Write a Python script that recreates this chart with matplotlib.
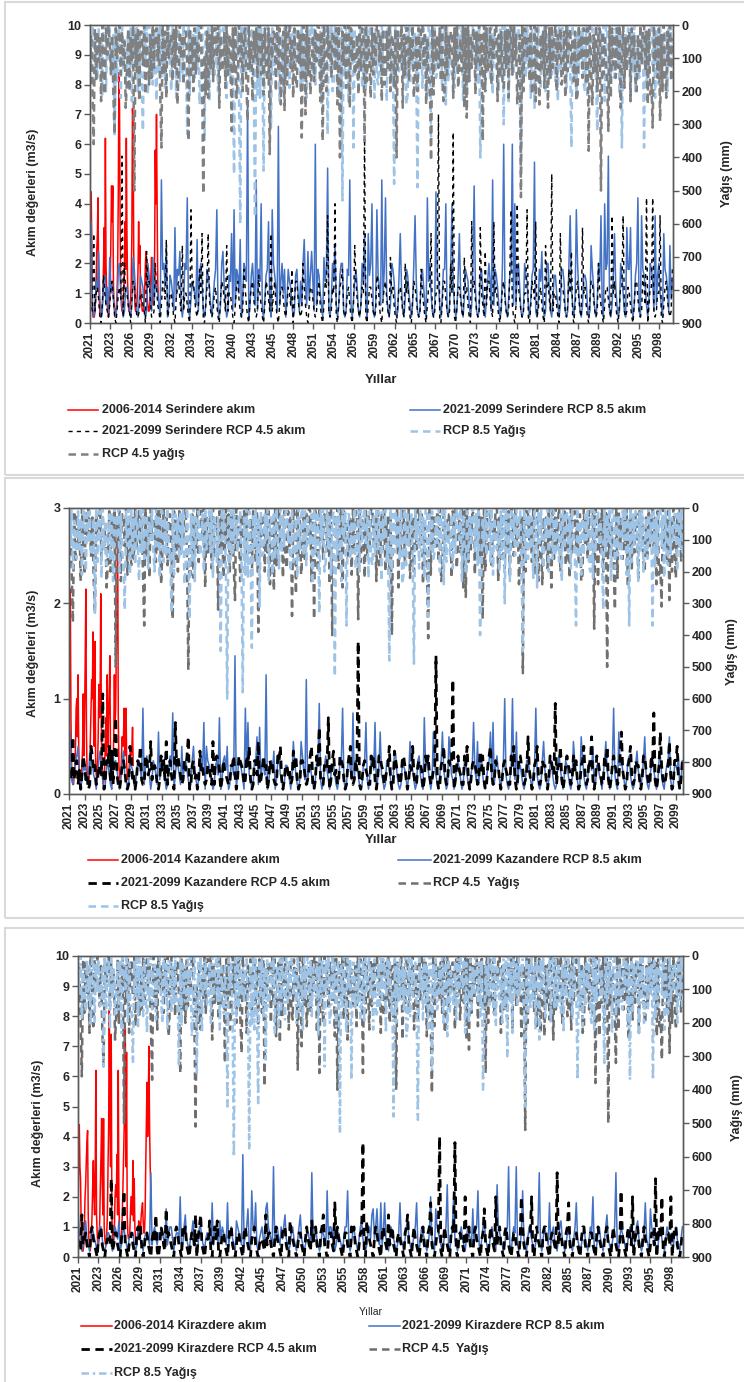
import numpy as np
import matplotlib
matplotlib.use("Agg")
import matplotlib.pyplot as plt
from matplotlib.lines import Line2D
from matplotlib.patches import Rectangle

plt.rcParams['font.family'] = ['Liberation Sans', 'DejaVu Sans']
plt.rcParams['font.weight'] = 'bold'

# values are stored one character per point: index in ALPH times the series step
ALPH = "0123456789ABCDEFGHIJKLMNOPQRSTUVWXYZabcdefghijklmnopqrstuvwxyz"

# observed monthly flow 2006-2014, drawn from the start of the month axis
serindere_obs = "AGMB2111247C FL84211235AG 7VA5321247FN HN7321235AMg aF632246AH9V F7422347FaYC 6322359HAD64 322246AC7432 2358B7436CTK ZK74"
kazandere_obs = "CUhG632246AI KCPA42236AL8 GShC42236CIO KYEAW8436CNG KgC64236AG8P AGKT84236CPE IUeuG64348CA CI8AI643468A 8AE6"
kirazdere_obs = "7FMFD521125A CGJL7321247C GA7FV742236C HNC7N532247F MfPFb74235AC AH7VA43236AF KPcFY743347A A7G6D5322346 5457896447FM TKPZMFB"

# simulated flow 2021-2099, six values a year (one group per year)
serindere_rcp85 = ("5H3127 6C4127 8361B5 742139 A53126 64213B 952148 76312A 842B37 6531O9 "
                   "A6D138 752G49 8C313A 9L2147 653E28 A72139 863147 9J213A C63128 7F2J39 "
                   "85E14A 97b138 A63O29 7K2148 9H31JA 862X37 A59149 763128 95273A E63C48 "
                   "C72U39 8531B7 9Q214A 7D3138 AA2129 8O3147 96213A 7F31F8 AK213J 863O49 "
                   "L5213A 973128 F62149 85313A I72128 9631L7 A5213M 873149 9K213A K63128 "
                   "F52149 87313A N62128 953147 A72O39 86312A U52148 9U3K39 A6212A 873148 "
                   "9R2139 7C312A A62148 853139 97212A I6314J A52138 87312D 96214A 7I31K9 "
                   "AS2138 F6312A 8521G9 9G3138 AL21I9 86314A 972I38 A531F9 862D47")
serindere_rcp45 = ("432F25 641038 532136 741025 64S1A5 532047 641125 5320C6 74112A 632037 "
                   "64E125 531046 742D25 5310J6 742139 5F1036 F42125 631047 642D25 531036 "
                   "742129 631046 742128 531037 642F25 731036 642136 539047 74212A 631036 "
                   "642125 731037 6I2126 5K1036 792125 63103D 742136 5V1036 642128 731046 "
                   "7421B5 631036 6421A5 731047 642129 531036 6F2125 5Z1037 74212A 5W1036 "
                   "6421B5 6310H6 74212G 531C37 7421H5 631036 742129 J3103K 642125 5J1037 "
                   "64H125 6310D6 742P25 5310F6 642139 5C1036 7421G5 631047 74212A 531036 "
                   "6421I5 731036 6I2126 531037 742128 63L036 6L2125 5I1036 742129")
kazandere_rcp85 = ("6D3247 8A3136 562396 743147 953126 642186 753137 943126 652147 753I26 "
                   "864137 642D36 753126 85H147 642A36 753127 A43136 85F1A7 643126 74G137 "
                   "85A126 64T147 7531I6 F43127 7C2E36 64P126 759137 843126 65314B 74213B "
                   "853O26 642137 7J3126 853146 642137 7I3126 853H37 642126 7F3147 85F136 "
                   "D43127 753139 842126 65314B 753127 8421G6 75313D 642147 D5312C 843136 "
                   "753127 642146 F53B27 842136 7D3F26 853147 K42136 K53D26 642137 753146 "
                   "I42127 B53136 742126 853147 64213B 75312C 842137 75A126 643147 B53126 "
                   "I421D6 753137 842126 953147 C42136 753127 842146 7C3126 658137")
kazandere_rcp45 = ("543C36 725148 63412A 856236 54L137 6A3928 G42136 75212A 834137 6A3228 "
                   "745B35 652138 573B26 7421F6 864237 58C126 734139 563236 642B27 875137 "
                   "543226 684138 765238 6A3127 74B235 856137 563228 7A3136 645239 583127 "
                   "764235 8A2138 6E3226 56G137 945238 763126 8A3237 5W2136 754228 683138 "
                   "865235 6A3129 754237 863136 5A4226 765138 684235 5T3126 7A4237 66O136 "
                   "854228 6A3136 765239 583126 8A4237 663136 754228 6A3138 865235 C53126 "
                   "7A4237 663138 754J26 6A3136 865238 573126 7A4237 6C3138 754228 6A3136 "
                   "865238 D53126 7A4237 663138 854228 6H3136 D63235 6B4127 7A3137")
kirazdere_rcp85 = ("843124 632135 432135 531124 432135 436124 532134 442125 532134 432E24 "
                   "532435 432824 553134 43A125 732134 632125 532134 432924 532635 432924 "
                   "532165 432H24 5821B5 492134 532895 432F24 532535 732124 532135 732124 "
                   "432E35 532124 432B35 535124 432135 5B2124 532135 632124 537835 832924 "
                   "932135 432124 932135 632124 592135 432124 A32185 432124 5C2135 A32124 "
                   "532135 432824 5B2135 632124 5321C5 432124 5F2135 4F2124 B32135 432124 "
                   "5E2135 432924 532135 632124 532135 932124 532135 4A2124 532135 732124 "
                   "5E2135 432124 532135 632124 932185 432124 532135 432424 532135")
kirazdere_rcp45 = ("321723 421045 321034 521023 32D124 421035 B21023 421045 351024 421034 "
                   "371025 421834 321045 421054 521024 427035 721023 361045 361024 421035 "
                   "521024 421045 321034 521023 321724 421035 321045 521064 321024 421035 "
                   "321624 521045 721034 421935 321024 421054 521024 4J1064 321035 421045 "
                   "321724 521034 321045 721035 321024 521045 921024 4K1035 321045 4J1034 "
                   "321A24 521045 321034 821035 321A24 521045 321024 42103A 521034 4A1035 "
                   "321045 521034 321E24 421045 921034 421035 521024 421045 321034 521035 "
                   "32102B 421045 32A034 521035 321024 42D045 3A1034 42A035 521024")

# precipitation 2021-2099 (mm, step 10), six values a year, same in all three charts
yagis_rcp45 = ("D3Ka1H 2B4N0C L1905F 3MX1A4 0F2C5P H1K4B0 o3E1N2 2C0L4A I3G0D2 1B3Kb0 "
               "F2M0A4 3H1D0O E0A3I2 2CZ1G4 K1F5B0 0Gp9L2 M3D0H1 1A0P3E C2J0F4 3W1E0M "
               "G0B2K3 1IT0D5 N2A1G0 0F3L1C H1d4A2 3K0E1O B2Q0I3 0D4M1G J1C3Y0 2R0F4L "
               "E3H1B0 1N2Z0D K0A4G2 3E1O0e H2C0J3 0P1B4F D3L0E1 2Z0H3A M1F2C0 0B3N1I "
               "G2D0K4 3J1e2C A0P3F1 1H4B0M E3K1D0 0C2O4G If0L2B 3D1H0N K0F3A2 2M1C0J "
               "B4E0P1 S0H3D2 1L2B0F 3Z0K1E C1I4A0 0N3G2H J2D1M0 1F0B3O E3q0K1 2A4H0L "
               "G0N1CO 3E2J0B P1G0D4 0K3A1I F2M0E3 1C4H2N L0B3G1 2I1c0D O3E0K2 1o2F4A "
               "HW0M1C 3G1D0P B0J4E2 2N1A3H K3F0C1 0E2O1L IV0B3G 1T3K0E M2C0H4")
yagis_rcp85 = ("2C0J4A G1D3L0 0K2B1F E3X0H2 1M0D4I B2G1N0 3A0K2E HW1C0L 0F3I1B N1E0G3 "
               "2J4A0D K0C2M1 1H3F0E DX0L2B 3G1E0O I0CZ2H 0N3A1F C2K0D4 1E0M3B H3Fj0A "
               "2Ky0I1 F0B4E2 1Gw3L0 M1Di2C 0I3V1F E2A0N3 3L1G0B J0E2C1 1B4K0H G3M0D2 "
               "0F1I3A C2O0E1 3X1B0K H0D2L4 1r3F0C N0A1b2 2G4E0J E1K0B3 0C3M1G I2F0D1 "
               "3N1A0H Bm0K2E 1D3G0O L0I1C3 2Fn0A4 J1E3M0 0Y2D1G E3B0K2 1O0H4C F2J1E0 "
               "3A0N2D K1G3B0 0E2I1e M3C0F2 1H0L3A D4K1G0 U0E2N1 B2F0C3 1Ij0H2 G0D3M1 "
               "2P1B0E J3A0K2 0G1F3C H2N0D1 1E3J0B Cb0G4L 3F2A1I K0M1E3 1C4HW0 E2B0N1 "
               "0J3F2D G1A0L3 b0H2C1 2N1E0K D3G0B2 b1J3F0 0C2M1H I0E3A2 2K1D0G")

first_year = 2021


def decode(code, step):
    return np.array([ALPH.index(c) for c in code if c != " "]) * step


def fx(px):
    return px / 744


def fy(py):
    return 1 - py / 1382


RED = "#FF0000"
BLUE = "#4472C4"
LBLUE = "#9DC3E6"

panels = [
    dict(name="Serindere", obs=serindere_obs, r85=serindere_rcp85, r45=serindere_rcp45,
         step=0.2, ymax=10, box=(2, 475), ax=(90, 673, 25, 323), xstep=33,
         ylab=(33, 192), y2lab=(727, 174), yil=(381, 380, 10, "bold"),
         rows=(410, 431, 454), c1=(68, 98, 102), c2=(410, 440, 443),
         black=dict(color="black", lw=1.0, dashes=(3, 3)),
         gray=dict(color="#808080", lw=1.8, dashes=(3, 2)),
         lblue=dict(color=LBLUE, lw=1.8, dashes=(3, 2)),
         top="gray", l45="RCP 4.5 yağış",
         order=["red", "blue", "black", "lblue", "gray"]),
    dict(name="Kazandere", obs=kazandere_obs, r85=kazandere_rcp85, r45=kazandere_rcp45,
         step=0.05, ymax=3, box=(478, 918), ax=(69, 683, 508, 794), xstep=24,
         ylab=(33, 653), y2lab=(732, 652), yil=(381, 840, 10, "bold"),
         rows=(860, 883, 906), c1=(88, 118, 121), c2=(398, 431, 433),
         black=dict(color="black", lw=2.0, dashes=(3, 2)),
         gray=dict(color="#707070", lw=1.8, dashes=(3, 2)),
         lblue=dict(color=LBLUE, lw=1.8, dashes=(3, 2)),
         top="lblue", l45="RCP 4.5  Yağış",
         order=["red", "blue", "black", "gray", "lblue"]),
    dict(name="Kirazdere", obs=kirazdere_obs, r85=kirazdere_rcp85, r45=kirazdere_rcp45,
         step=0.2, ymax=10, box=(928, 1390), ax=(78, 683, 956, 1257), xstep=32,
         ylab=(38, 1123), y2lab=(737, 1108), yil=(371, 1312, 8, "normal"),
         rows=(1326, 1349, 1373), c1=(81, 112, 114), c2=(369, 400, 402),
         black=dict(color="black", lw=2.0, dashes=(3, 2)),
         gray=dict(color="#6E6E6E", lw=1.8, dashes=(3, 2)),
         lblue=dict(color=LBLUE, lw=1.8, dashes=(3, 1.5, 1, 1.5)),
         top="lblue", l45="RCP 4.5  Yağış",
         order=["red", "blue", "black", "gray", "lblue"]),
]

fig = plt.figure(figsize=(7.44, 13.82), dpi=100)

p45 = decode(yagis_rcp45, 10)
p85 = decode(yagis_rcp85, 10)
x_precip = np.arange(len(p45)) * 2

for p in panels:
    b0, b1 = p["box"]
    fig.add_artist(Rectangle((fx(5), fy(b1)), fx(760), (b1 - b0) / 1382,
                             transform=fig.transFigure, fill=False,
                             ec="#D9D9D9", lw=1.5))

    L, R, T, B = p["ax"]
    ax = fig.add_axes([fx(L), fy(B), fx(R) - fx(L), (B - T) / 1382])
    obs = decode(p["obs"], p["step"])
    r85 = decode(p["r85"], p["step"])
    r45 = decode(p["r45"], p["step"])
    x_sim = np.arange(len(r85)) * 2

    styles = {
        "red": dict(color=RED, lw=1.1),
        "blue": dict(color=BLUE, lw=1.1),
        "black": p["black"],
        "gray": p["gray"],
        "lblue": p["lblue"],
    }

    ax.plot(np.arange(len(obs)), obs, **styles["red"])
    ax.plot(x_sim, r85, **styles["blue"])
    ax.plot(x_sim, r45, **styles["black"])
    ax.set_xlim(0, 947)
    ax.set_ylim(0, p["ymax"])
    ax.set_yticks(np.arange(0, p["ymax"] + 1, 1))

    ax2 = ax.twinx()
    precip = {"gray": p45, "lblue": p85}
    for key in (["lblue", "gray"] if p["top"] == "gray" else ["gray", "lblue"]):
        ax2.plot(x_precip, precip[key], **styles[key])
    ax2.set_ylim(900, 0)
    ax2.set_yticks(np.arange(0, 901, 100))

    ticks = np.arange(0, 948, p["xstep"])
    ax.set_xticks(ticks)
    ax.set_xticklabels([str(first_year + t // 12) for t in ticks], rotation=90)

    for a in (ax, ax2):
        for s in a.spines.values():
            s.set_color("#595959")
            s.set_linewidth(1.0)
        a.tick_params(colors="#595959", labelcolor="#262626", length=4,
                      width=1.0, labelsize=9, pad=2)
    ax.tick_params(axis="x", labelsize=8.5)

    fig.text(fx(p["ylab"][0]), fy(p["ylab"][1]), "Akım değerleri (m3/s)",
             rotation=90, ha="center", va="center", fontsize=9, color="#262626")
    fig.text(fx(p["y2lab"][0]), fy(p["y2lab"][1]), "Yağış (mm)",
             rotation=90, ha="center", va="center", fontsize=9, color="#262626")
    yx, yy, ys, yw = p["yil"]
    fig.text(fx(yx), fy(yy), "Yıllar", ha="center", va="center", fontsize=ys - 0.5,
             fontweight=yw, color="#262626")

    labels = {
        "red": "2006-2014 %s akım" % p["name"],
        "blue": "2021-2099 %s RCP 8.5 akım" % p["name"],
        "black": "2021-2099 %s RCP 4.5 akım" % p["name"],
        "gray": p["l45"],
        "lblue": "RCP 8.5 Yağış",
    }
    for i, key in enumerate(p["order"]):
        row, col = divmod(i, 2)
        x0, x1, xt = p["c1"] if col == 0 else p["c2"]
        y = p["rows"][row]
        fig.add_artist(Line2D([fx(x0), fx(x1)], [fy(y), fy(y)],
                              transform=fig.transFigure, **styles[key]))
        fig.text(fx(xt), fy(y), labels[key], ha="left", va="center",
                 fontsize=9, color="#262626")

fig.savefig("out.png", dpi=100)
